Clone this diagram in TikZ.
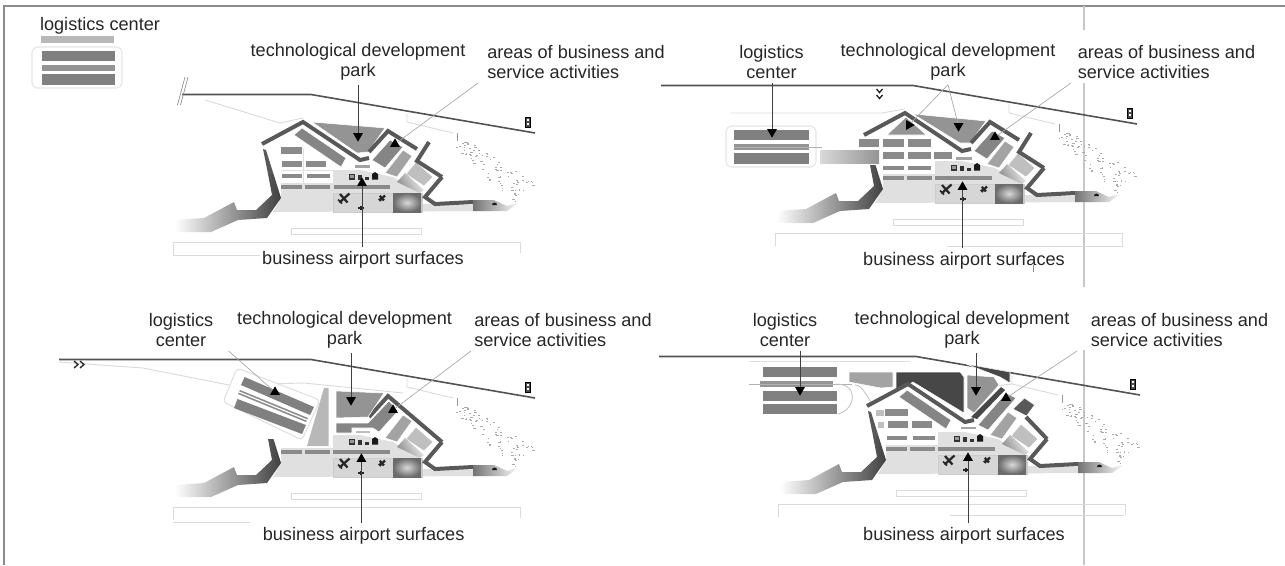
\documentclass[tikz,border=0pt]{standalone}
\usepackage{fontspec}
\setmainfont{Liberation Sans}
\usepackage{xcolor}
\usetikzlibrary{positioning}
\usetikzlibrary{shapes.geometric}
\tikzstyle{lbl} = [text=black!85, align=center, inner sep=3pt, font=\fontsize{13.6}{15}\selectfont]
\tikzstyle{lblleft} = [lbl, align=left, anchor=west, inner xsep=0pt]
\tikzstyle{tipup} = [regular polygon, regular polygon sides=3, fill=black, inner sep=0pt, minimum size=8.5pt]
\tikzstyle{tipdown} = [tipup, shape border rotate=180]
\tikzstyle{tipright} = [tipup, shape border rotate=-90]
\tikzstyle{leader} = [black!75, line width=0.5pt]
\tikzstyle{leaderlight} = [black!35, line width=0.5pt]
\tikzstyle{road} = [black!68, line width=1.2pt]
\tikzstyle{wall} = [black!65, line width=3pt, line join=miter]
\tikzstyle{thinroad} = [black!14, line width=0.7pt]
\tikzstyle{runway} = [black!14, line width=0.6pt]
\tikzstyle{block} = [fill=black!42, draw=white, line width=0.4pt]
\tikzstyle{midblock} = [fill=black!48, draw=white, line width=0.4pt]
\tikzstyle{rowblock} = [fill=black!46]
\tikzstyle{lightblock} = [fill=black!36, draw=white, line width=0.4pt]
\tikzstyle{paleblock} = [fill=black!25, draw=white, line width=0.4pt]
\tikzstyle{darkblock} = [fill=black!72, draw=white, line width=0.4pt]
\tikzstyle{grid} = [black!12, line width=0.4pt]
\newcommand{\planeicon}[3]{%
  \begin{scope}[shift={(#1,#2)},scale=#3]
    \draw[black!85, line width=1.7pt] (-4.5,4.5)--(5.5,-4.5);
    \draw[black!85, line width=1.7pt] (-4,-4)--(3.5,4.5);
    \draw[black!85, line width=1.2pt] (-6,1.5)--(-2,5.5);
  \end{scope}}
\newcommand{\sitecore}[1]{%
  \fill[black!12] (333,170)--(360,170)--(393,177)--(420,192)--(423,204)--(473,205)--(490,211)--(273,212)--(281,198)--(281,183)--(333,183)--cycle;
  \draw[black!20, fill=black!16, line width=0.4pt] (333,193) rectangle (422,212);
  \shade[inner color=black!15, outer color=black!58] (393,193) rectangle (421,212);
  \draw[runway] (291,228) rectangle (421,234);
  \draw[runway] (173,255)--(173,242)--(520,242)--(520,253);
  \fill[rowblock] (281,185) rectangle (302,189);
  \fill[rowblock] (305,185) rectangle (330,189);
  \fill[rowblock] (333,185) rectangle (390,189);
  \filldraw[lightblock] (385,173)--(403,150)--(412,156)--(397,177)--cycle;
  \filldraw[paleblock] (406,174)--(416,162)--(433,177)--(424,186)--cycle;
  \shade[left color=black!45, right color=black!5, shading angle=120] (397,182)--(405,173)--(424,190)--(420,193)--cycle;
  %\shade sea wall
  \shade[left color=white, right color=black!75] (268,174)--(273.5,174)--(281,198)--(267,218)--(238,220)--(211,232)--(175,232)--(175,220)--(204,218)--(234,202)--(237,210)--(256,210)--(272,195)--cycle;
  \draw[wall] (442,177)--(425,197)--(435,204)--(473,202);
  \shade[left color=black!55, right color=white] (473,200)--(494,200)--(507,206)--(520,202)--(507,211)--(473,211)--cycle;
  \fill[black!90] (492,205) arc (180:360:2.5) --cycle;
  %icons
  \filldraw[black!80, fill=black!40, line width=0.9pt] (349.5,174.5) rectangle (354.5,179);
  \fill[black!80] (358,175) rectangle (361.5,179.5);
  \fill[black!80] (365,176.5) rectangle (369,179.5);
  \fill[black!90] (372,179.5)--(372,174)--(375,172)--(378,174)--(378,179.5)--cycle;
  \planeicon{344}{198}{1}
  \planeicon{382}{198}{0.55}
  \draw[black!85, line width=0.8pt] (358,208)--(364,208);
  \draw[black!85, line width=0.8pt] (361,206)--(361,210);
  %road and lamp
  \draw[road] (#1,94.5)--(311,94.5)--(535,133);
  \filldraw[black, fill=black!70, line width=0.5pt] (525.5,117) rectangle (530.5,127);
  \fill[white] (526.8,118.5) rectangle (529.2,121);
  \fill[white] (526.8,122.5) rectangle (529.2,125);
  \draw[thinroad] (407,113)--(407,122)--(453,133);
  \draw[black!40, line width=0.6pt] (457,133)--(457,141);
  \pgfmathsetseed{17}
  \foreach \i in {1,...,95}
  {
    \pgfmathsetmacro{\t}{rnd}
    \pgfmathsetmacro{\s}{(rnd-0.5)*(10+14*\t)}
    \pgfmathsetmacro{\u}{rnd*4}
    \fill[black!33] ({459+66*\t+\s},{143+50*\t-\s*0.8}) rectangle +(1.1+\u*0.3,0.9);
  }}
\newcommand{\roofwall}{\draw[wall] (262,144)--(303,122)--(360,160)--(369,158);}
\newcommand{\seaupper}{\fill[black!65] (263,149)--(266,150)--(273.5,174)--(268,174)--cycle;}
\newcommand{\eastupper}{%
  \draw[wall] (369,152)--(388,131)--(417,149);
  \draw[wall] (429,142)--(417,161)--(442,177);}
\begin{document}
\begin{tikzpicture}[x=0.75pt,y=-0.75pt]
      \useasboundingbox (0,0) rectangle (1285,565);
      \draw[black!45, line width=0.9pt] (4,565)--(4,6)--(1285,6);
      \draw[black!22, line width=0.9pt] (1084,6)--(1084,30) (1084,83)--(1084,287) (1084,350)--(1084,565);
      %%%%%%%%%%%%%%%%%%%%%%% top left
      \begin{scope}
      \sitecore{182}
      \draw[runway] (173,255)--(260,255);
      \draw[thinroad] (205,100)--(280,123)--(303,118);
      \draw[grid] (303,148)--(303,190) (333,170)--(333,190) (281,170)--(333,170);
      \fill[rowblock] (281,147) rectangle (302,154);
      \fill[rowblock] (282,161) rectangle (302,167);
      \fill[rowblock] (306,161) rectangle (326,167);
      \fill[rowblock] (282,174) rectangle (302,178);
      \fill[rowblock] (307,174) rectangle (330,178);
      \fill[black!36] (355,165) rectangle (370,168);
      \filldraw[midblock] (302,128)--(346,158)--(341,167)--(294,135)--cycle;
      \filldraw[block] (312,122)--(385,128)--(368,152)--(357,153)--cycle;
      \filldraw[midblock] (372,160)--(390,140)--(403,147)--(385,168)--cycle;
      \roofwall
      \seaupper
      \eastupper
      \draw[black!45, line width=0.5pt] (185,77)--(177.5,105) (188,77)--(180.5,105);
      \end{scope}
      \fill[black!28] (41,36) rectangle (114,43);
      \draw[black!10, fill=white, line width=0.8pt, rounded corners=4pt] (32,47) rectangle (122,88);
      \fill[black!50] (42,51) rectangle (115,61);
      \fill[black!42] (42,65) rectangle (115,71);
      \fill[black!50] (42,74) rectangle (115,85);
      \draw (100,26) node (logA) [lbl] {logistics center};
      \draw (358,62) node (techA) [lbl] {technological development\\park};
      \draw (487,62) node (areasA) [lblleft] {areas of business and\\service activities};
      \draw (363,260) node (bizA) [lbl] {business airport surfaces};
      \draw (358,136) node (tipTechA) [tipdown] {};
      \draw (395,144) node (tipAreasA) [tipup] {};
      \draw (362,183) node (tipBizA) [tipup] {};
      \coordinate (startAreasA) at (478,83);
      \draw[leader] (techA.south -| tipTechA)--(tipTechA);
      \draw[leaderlight] (startAreasA)--(tipAreasA);
      \draw[leader] (bizA.north -| tipBizA)--(tipBizA);
      %%%%%%%%%%%%%%%%%%%%%%% top right
      \begin{scope}[shift={(602,-9)}]
      \sitecore{59}
      \draw[runway] (345,255)--(520,255)--(520,242);
      \draw[thinroad] (129,122)--(280,122)--(303,118);
      \fill[rowblock] (256.5,148) rectangle (277,156);
      \fill[rowblock] (281,148) rectangle (302,156);
      \fill[rowblock] (306,148) rectangle (329,156);
      \fill[rowblock] (281,161) rectangle (302,168);
      \fill[rowblock] (306,161) rectangle (329,168);
      \fill[rowblock] (332,161) rectangle (350,168);
      \fill[rowblock] (281,175) rectangle (302,179);
      \fill[rowblock] (306,175) rectangle (329,179);
      \fill[black!36] (354,166) rectangle (370,169);
      \filldraw[block] (285,144)--(304,126)--(324.5,144)--cycle;
      \filldraw[block] (311,123)--(384,130)--(368,152)--(358,152)--cycle;
      \filldraw[midblock] (372,160)--(390,140)--(403,147)--(385,168)--cycle;
      \roofwall
      \eastupper
      \end{scope}
      \draw[black!10, fill=white, line width=0.8pt, rounded corners=4pt] (726,126) rectangle (816,167);
      \fill[black!50] (734,130) rectangle (809,140);
      \fill[black!42] (734,144) rectangle (809,150);
      \draw[white!70!black, line width=0.5pt] (734,147)--(822,147);
      \fill[black!50] (734,153) rectangle (809,164);
      \shade[left color=black!15, right color=black!42] (820,150) rectangle (879,163);
      \draw[black!85, line width=1pt] (876.5,89)--(879.5,92.5)--(882.5,89) (876.5,95)--(879.5,98.5)--(882.5,95);
      \draw (771.5,62) node (logB) [lbl] {logistics\\center};
      \draw (948,62) node (techB) [lbl] {technological development\\park};
      \draw (1077.5,62) node (areasB) [lblleft] {areas of business and\\service activities};
      \draw (964,261) node (bizB) [lbl] {business airport surfaces};
      \draw (772,132) node (tipLogB) [tipdown] {};
      \draw (909,125) node (tipTechLeftB) [tipright] {};
      \draw (958.5,126) node (tipTechRightB) [tipdown] {};
      \draw (995,137) node (tipAreasB) [tipup] {};
      \draw (962.5,187) node (tipBizB) [tipup] {};
      \coordinate (startAreasB) at (1071,83);
      \draw[leader] (logB.south -| tipLogB)--(tipLogB);
      \draw[leaderlight] (techB.south)--(tipTechLeftB);
      \draw[leaderlight] (techB.south)--(tipTechRightB);
      \draw[leaderlight] (startAreasB)--(tipAreasB);
      \draw[leader] (bizB.north -| tipBizB)--(tipBizB);
      \draw[black!45, line width=0.5pt] (1033,265)--(1033,272);
      %%%%%%%%%%%%%%%%%%%%%%% bottom left
      \begin{scope}[shift={(0,265)}]
      \sitecore{59}
      \draw[runway] (173,257)--(250,257);
      \draw[thinroad] (59,97)--(143,103)--(229,120)--(304,118)--(403,128);
      \draw[wall] (369,152)--(388,131)--(442,177);
      \end{scope}
      \draw[black!12, fill=white, line width=0.8pt, rounded corners=3pt] (237,368)--(320,400)--(302,440)--(223,402)--cycle;
      \fill[black!50] (244.6,377)--(314,407)--(310,415)--(241,385)--cycle;
      \draw[black!45, line width=3.4pt] (239,392)--(307,420);
      \draw[white, line width=0.9pt] (239,392)--(307,420);
      \fill[black!50] (237.5,399)--(306,425)--(302,434)--(234,408)--cycle;
      \fill[black!28] (324,388)--(328.6,388)--(328.6,446)--(307,446)--cycle;
      \filldraw[block] (336,391)--(384,393)--(368,417)--(336,418)--cycle;
      \filldraw[midblock] (336,423)--(368,423)--(389,401)--(398,411)--(379,432)--(373,428)--(352,428)--(352,433)--(336,433)--cycle;
      \filldraw[paleblock] (355,430) rectangle (370,433);
      \draw[black!85, line width=1pt] (74,361)--(78,364.5)--(74,368) (80,361)--(84,364.5)--(80,368);
      \draw (181,330) node (logC) [lbl] {logistics\\center};
      \draw (344.6,330) node (techC) [lbl] {technological development\\park};
      \draw (474,330) node (areasC) [lblleft] {areas of business and\\service activities};
      \draw (363.6,536) node (bizC) [lbl] {business airport surfaces};
      \draw (275,392) node (tipLogC) [tipup] {};
      \draw (351,400) node (tipTechC) [tipdown] {};
      \draw (393,410) node (tipAreasC) [tipup] {};
      \draw (361.4,459) node (tipBizC) [tipup] {};
      \coordinate (startLogC) at (228.6,351);
      \coordinate (startAreasC) at (471,351);
      \draw[leaderlight] (startLogC)--(tipLogC);
      \draw[leader] (techC.south -| tipTechC)--(tipTechC);
      \draw[leaderlight] (startAreasC)--(tipAreasC);
      \draw[leader] (bizC.north -| tipBizC)--(tipBizC);
      %%%%%%%%%%%%%%%%%%%%%%% bottom right
      \begin{scope}[shift={(605,262)}]
      \sitecore{54}
      \draw[runway] (345,253)--(519,253);
      \draw[thinroad] (391,124)--(407,122);
      \filldraw[paleblock] (270,147) rectangle (279,154);
      \fill[rowblock] (280,147) rectangle (303,154);
      \filldraw[paleblock] (272.5,159) rectangle (279,166);
      \fill[rowblock] (282.6,159) rectangle (303,166);
      \fill[rowblock] (307,159) rectangle (327,166);
      \fill[rowblock] (282,174) rectangle (302,177.5);
      \fill[rowblock] (308,174) rectangle (330,177.5);
      \fill[black!36] (355.5,165) rectangle (371,167);
      \filldraw[midblock] (302,128)--(346,158)--(341,167)--(294,135)--cycle;
      \filldraw[darkblock] (291,110)--(355,110)--(359,115)--(359,151)--(308,120)--(291,130)--cycle;
      \filldraw[lightblock] (244,110)--(288,110)--(288,125)--(276,126)--(244,120)--cycle;
      \filldraw[block] (362,113)--(389,115)--(394,123)--(369,151)--(362,146)--cycle;
      \filldraw[darkblock] (361,102)--(405,110)--(405,121)--(395,115)--cycle;
      \fill[black!72] (396,125)--(366,155)--(372,157)--(400,128)--cycle;
      \filldraw[midblock] (373,163)--(401,131)--(411,136)--(383,168)--cycle;
      \filldraw[fill=black!65, draw=white, line width=0.4pt] (408,147)--(419.5,136)--(429.6,143)--(421.5,154)--cycle;
      \roofwall
      \seaupper
      \draw[wall] (421,155)--(442,177);
      \end{scope}
      \fill[black!50] (763,367) rectangle (837,377);
      \fill[black!42] (760,381) rectangle (833,387);
      \draw[white!70!black, line width=0.5pt] (749,384)--(852,384);
      \fill[black!50] (763,391) rectangle (837,401);
      \fill[black!50] (763,404) rectangle (837,414);
      \draw[black!25, line width=0.6pt] (836,384) .. controls (860,384) and (855,410) .. (838,414);
      \draw[black!25, line width=0.6pt] (855,385) .. controls (862,385) and (866,395) .. (871,402);
      \draw[black!12, line width=0.6pt] (749,361)--(910,361);
      \draw (785,330) node (logD) [lbl] {logistics\\center};
      \draw (962,330) node (techD) [lbl] {technological development\\park};
      \draw (1090.5,330) node (areasD) [lblleft] {areas of business and\\service activities};
      \draw (964,536) node (bizD) [lbl] {business airport surfaces};
      \draw (800,390) node (tipLogD) [tipdown] {};
      \draw (976,390) node (tipTechD) [tipdown] {};
      \draw (1006,398) node (tipAreasD) [tipup] {};
      \draw (968,458) node (tipBizD) [tipup] {};
      \coordinate (startAreasD) at (1077,351);
      \draw[leader] (logD.south -| tipLogD)--(tipLogD);
      \draw[leader] (techD.south -| tipTechD)--(tipTechD);
      \draw[leaderlight] (startAreasD)--(tipAreasD);
      \draw[leader] (bizD.north -| tipBizD)--(tipBizD);
\end{tikzpicture}
\end{document}
